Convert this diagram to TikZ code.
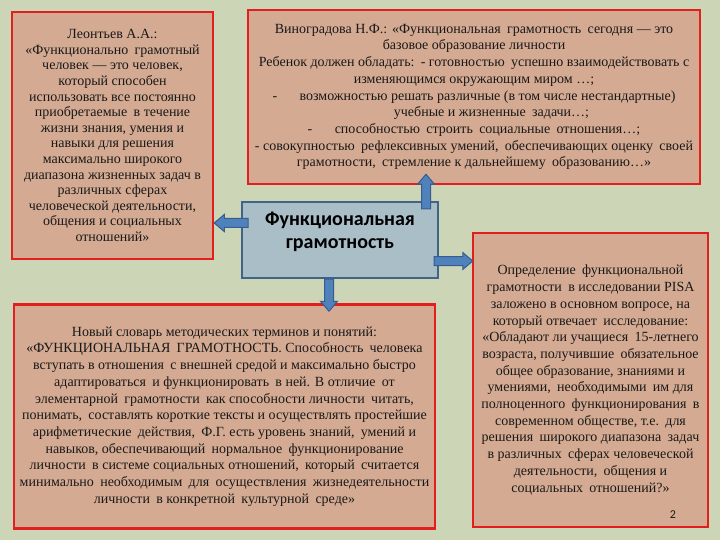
\documentclass[tikz,border=0pt]{standalone}
\usepackage{fontspec}
\setmainfont{Liberation Serif}
\newfontfamily\calib{Carlito}
\usetikzlibrary{calc}
\definecolor{bgc}{RGB}{205,213,183}
\definecolor{boxc}{RGB}{212,170,146}
\definecolor{redc}{RGB}{226,30,30}
\definecolor{cfill}{RGB}{170,190,200}
\definecolor{cdraw}{RGB}{62,100,140}
\definecolor{afill}{RGB}{79,129,189}
\definecolor{adraw}{RGB}{56,93,138}
\definecolor{txt}{RGB}{25,25,25}
\newcommand\dsp{\hspace{0.45em}}
\tikzset{
  quotebox/.style={draw=redc, fill=boxc, line width=2.5pt, inner sep=0pt, align=center,
    text=txt, font=\fontsize{14}{16.7}\selectfont},
  centerbox/.style={draw=cdraw, fill=cfill, line width=2pt, inner sep=0pt},
  centertext/.style={align=center, inner sep=0pt, text=black, font=\calib\bfseries\fontsize{20}{23}\selectfont},
  barrow/.style={fill=afill, draw=adraw, line width=1pt, line join=miter},
}
\newcommand\varrow[2]{\draw[barrow] let \p1=(#1), \p2=(#2), \n1={sign(\y2-\y1)} in
  (\x1-4.5pt,\y1) -- (\x1-4.5pt,\y2-\n1*10pt) -- (\x1-8.5pt,\y2-\n1*10pt) -- (\x2,\y2)
  -- (\x1+8.5pt,\y2-\n1*10pt) -- (\x1+4.5pt,\y2-\n1*10pt) -- (\x1+4.5pt,\y1) -- cycle;}
\newcommand\harrow[2]{\draw[barrow] let \p1=(#1), \p2=(#2), \n1={sign(\x2-\x1)} in
  (\x1,\y1-4.5pt) -- (\x2-\n1*10pt,\y1-4.5pt) -- (\x2-\n1*10pt,\y1-8.5pt) -- (\x2,\y2)
  -- (\x2-\n1*10pt,\y1+8.5pt) -- (\x2-\n1*10pt,\y1+4.5pt) -- (\x1,\y1+4.5pt) -- cycle;}
\begin{document}
\begin{tikzpicture}[x=1pt,y=-1pt]
\useasboundingbox[fill=bgc] (0,0) rectangle (720,540);

\node[quotebox, minimum width=201pt, minimum height=247pt, font=\fontsize{14}{15.6}\selectfont] (L) at (112.5,135.5) {Леонтьев А.А.:\\
«Функционально\dsp грамотный\\
человек — это человек,\\
который способен\\
использовать все постоянно\\
приобретаемые\dsp в течение\\
жизни знания, умения и\\
навыки для решения\\
максимально широкого\\
диапазона жизненных задач в\\
различных сферах\\
человеческой деятельности,\\
общения и социальных\\
отношений»};

\node[quotebox, minimum width=452pt, minimum height=174pt] (T) at (474,97) {Виноградова Н.Ф.: «Функциональная\dsp грамотность\dsp сегодня — это\\
базовое образование личности\\
Ребенок должен обладать:\dsp - готовностью\dsp успешно взаимодействовать с\\
изменяющимся окружающим миром …;\\
-\hspace{1.6em}возможностью решать различные (в том числе нестандартные)\\
\hspace*{2.5em}учебные и жизненные\dsp задачи…;\\
-\hspace{1.6em}способностью\dsp строить\dsp социальные\dsp отношения…;\\
- совокупностью\dsp рефлексивных умений,\dsp обеспечивающих оценку\dsp своей\\
грамотности,\dsp стремление к дальнейшему\dsp образованию…»};

\node[quotebox, minimum width=421pt, minimum height=224pt] (B) at (224.5,416.5) {Новый словарь методических терминов и понятий:\\
«ФУНКЦИОНАЛЬНАЯ\dsp ГРАМОТНОСТЬ. Способность\dsp человека\\
вступать в отношения\dsp с внешней средой и максимально быстро\\
адаптироваться\dsp и функционировать\dsp в ней. В отличие\dsp от\\
элементарной\dsp грамотности\dsp как способности личности\dsp читать,\\
понимать,\dsp составлять короткие тексты и осуществлять простейшие\\
арифметические\dsp действия,\dsp Ф.Г. есть уровень знаний,\dsp умений и\\
навыков, обеспечивающий\dsp нормальное\dsp функционирование\\
личности\dsp в системе социальных отношений,\dsp который\dsp считается\\
минимально\dsp необходимым\dsp для\dsp осуществления\dsp жизнедеятельности\\
личности\dsp в конкретной\dsp культурной\dsp среде»};

\node[quotebox, minimum width=235pt, minimum height=294pt] (R) at (590.5,380) {Определение\dsp функциональной\\
грамотности\dsp в исследовании PISA\\
заложено в основном вопросе, на\\
который отвечает\dsp исследование:\\
«Обладают ли учащиеся\dsp 15-летнего\\
возраста, получившие\dsp обязательное\\
общее образование, знаниями и\\
умениями,\dsp необходимыми\dsp им для\\
полноценного\dsp функционирования\dsp в\\
современном обществе, т.е.\dsp для\\
решения\dsp широкого диапазона\dsp задач\\
в различных\dsp сферах человеческой\\
деятельности,\dsp общения и\\
социальных\dsp отношений?»};

\node[font=\calib\fontsize{12}{14}\selectfont, text=txt, inner sep=0pt] (pg) at (673,515) {2};

\node[centerbox, minimum width=196pt, minimum height=76pt] (C) at (340,240) {};
\node[centertext] (Ct) at (340,232) {Функциональная\\грамотность};

\coordinate (lS) at ($(C.north west)+(7,22)$);
\coordinate (lT) at (L.east |- lS);
\coordinate (uS) at ($(C.north east)+(-13,8)$);
\coordinate (uT) at ($(uS |- T.south)+(0,-11)$);
\coordinate (dS) at ($(C.south)+(-11,0)$);
\coordinate (dT) at ($(dS |- B.north)+(0,8)$);
\coordinate (rS) at ($(C.south east)+(-5,-18)$);
\coordinate (rT) at ($(rS -| R.west)+(1,0)$);

\harrow{lS}{lT}
\varrow{uS}{uT}
\varrow{dS}{dT}
\harrow{rS}{rT}
\end{tikzpicture}
\end{document}
